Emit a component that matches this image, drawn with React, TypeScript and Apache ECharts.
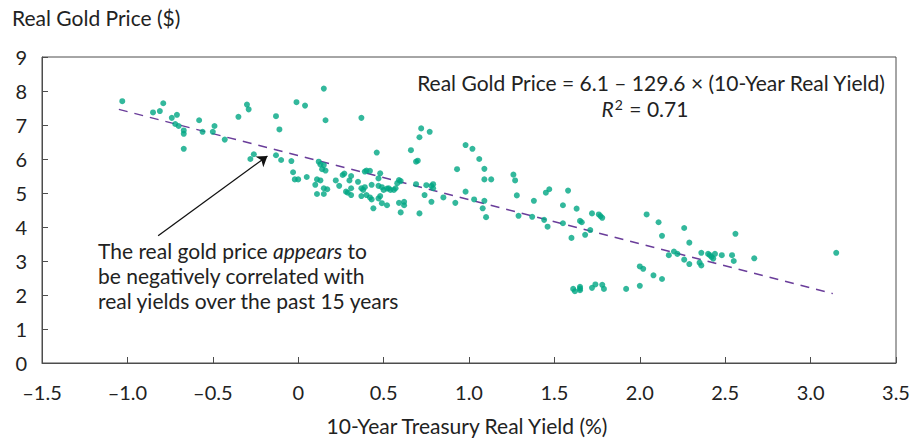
import React, { useEffect, useRef } from "react";
import * as echarts from "echarts";

// 10-Year Treasury real yield (%) and real gold price ($)
const yieldPct: number[] = [
  -1.03, -0.85, -0.81, -0.79, -0.74, -0.71, -0.72, -0.70, -0.67, -0.67, -0.67, -0.58, -0.56, -0.50, -0.49, -0.43,
  -0.35, -0.30, -0.29, -0.28, -0.26, -0.13, -0.11, -0.13, -0.10, -0.04, -0.01, 0.04, -0.03, -0.02, 0.00, 0.05,
  0.10, 0.11, 0.11, 0.13, 0.13, 0.14,
  0.15, 0.16, 0.37, 0.12, 0.15, 0.16, 0.15, 0.17, 0.15, 0.22, 0.24, 0.26, 0.27, 0.30, 0.31, 0.28, 0.29, 0.31,
  0.31, 0.35, 0.39, 0.40, 0.42, 0.48, 0.46, 0.47, 0.37, 0.39, 0.38, 0.43, 0.47, 0.49, 0.50, 0.52, 0.53, 0.54,
  0.56, 0.57, 0.59, 0.60, 0.58, 0.40, 0.42, 0.43, 0.37, 0.48, 0.47, 0.44, 0.49, 0.52, 0.59, 0.62, 0.62, 0.60,
  0.66, 0.69, 0.70, 0.71, 0.72, 0.77, 0.69, 0.75, 0.78, 0.79, 0.79, 0.74, 0.78, 0.71, 0.85, 0.92, 0.93, 0.98,
  1.02, 1.06, 1.09, 1.09, 1.13, 0.98, 1.03, 1.09, 1.08, 1.10,
  1.26, 1.27, 1.28, 1.29, 1.37, 1.38, 1.44, 1.46, 1.45, 1.47, 1.55, 1.58, 1.55, 1.60, 1.63, 1.65, 1.66, 1.68,
  1.71, 1.72, 1.76, 1.77, 1.78, 2.04,
  2.11, 2.13, 2.26, 2.29, 2.17, 2.20, 2.22, 2.26, 2.29, 2.36, 2.35, 2.36, 2.40, 2.41, 2.42, 2.44, 2.43, 2.48,
  2.54, 2.55, 2.56, 2.67, 3.15, 2.00, 2.02, 2.08, 2.13, 2.00, 1.92, 1.78, 1.79, 1.74, 1.72, 1.65, 1.65, 1.65,
  1.61, 1.62,
];
const goldPrice: number[] = [
  7.70, 7.37, 7.41, 7.64, 7.21, 7.30, 7.03, 6.97, 6.84, 6.74, 6.30, 7.14, 6.80, 6.80, 6.97, 6.57,
  7.24, 7.60, 7.46, 6.00, 6.14, 7.26, 6.87, 6.11, 5.97, 5.94, 7.67, 7.57, 5.61, 5.40, 5.40, 5.47,
  5.24, 4.97, 5.40, 5.37, 5.84, 5.70,
  8.07, 7.14, 7.21, 5.92, 5.82, 5.66, 5.14, 5.11, 4.97, 5.37, 5.21, 5.53, 5.57, 5.37, 5.50, 5.04, 5.01, 4.94,
  5.14, 5.33, 5.63, 5.66, 5.65, 5.58, 6.19, 5.43, 5.14, 5.17, 5.09, 5.24, 5.21, 5.17, 5.09, 5.13, 5.14, 5.09,
  5.09, 5.14, 5.38, 5.35, 5.29, 4.94, 4.87, 4.81, 4.91, 4.91, 4.84, 4.55, 4.70, 4.64, 4.71, 4.64, 4.74, 4.43,
  6.26, 5.92, 5.95, 6.64, 6.90, 6.80, 5.26, 5.23, 5.21, 5.26, 5.14, 4.94, 4.74, 4.40, 4.87, 4.71, 5.70, 6.41,
  6.30, 6.00, 5.71, 5.40, 5.40, 5.04, 4.81, 4.77, 4.55, 4.29,
  5.54, 5.37, 4.93, 4.33, 4.30, 4.77, 4.21, 4.01, 5.01, 5.11, 4.64, 5.07, 4.11, 3.68, 4.54, 4.18, 4.14, 3.77,
  3.91, 4.40, 4.37, 4.32, 4.27, 4.37,
  4.14, 3.74, 3.97, 3.54, 3.17, 3.28, 3.21, 3.04, 2.91, 3.24, 2.95, 2.87, 3.21, 3.17, 3.12, 3.21, 3.07, 3.17,
  3.17, 3.00, 3.80, 3.08, 3.24, 2.84, 2.77, 2.58, 2.47, 2.27, 2.18, 2.30, 2.18, 2.31, 2.21, 2.24, 2.19, 2.14,
  2.18, 2.11,
];

// Fitted trend line end points (x = yield %, y = price)
const trendX: number[] = [-1.05, 3.13];
const trendY: number[] = [7.46, 2.04];

// Arrow of the annotation (tail, head) in data units
const arrowX: number[] = [-0.82, -0.18];
const arrowY: number[] = [3.74, 6.09];

const xTicks = { min: -1.5, max: 3.5, interval: 0.5 };
const yTicks = { min: 0, max: 9, interval: 1 };

const FONT = "Lato, 'Open Sans', sans-serif";
const TXT = "#222222";
const AXIS = "#4d4d4d";

export default function App() {
  const ref = useRef<HTMLDivElement>(null);
  useEffect(() => {
    if (!ref.current) return;
    const chart = echarts.init(ref.current, null, { renderer: "svg" });
    const points = yieldPct.map((x, i) => [x, goldPrice[i]]);
    const trend = trendX.map((x, i) => [x, trendY[i]]);
    const fmtX = (v: number) => (v === 0 ? "0" : v < 0 ? "\u2013" + Math.abs(v).toFixed(1) : v.toFixed(1));
    chart.setOption({
      animation: false,
      textStyle: { fontFamily: FONT },
      grid: {
        left: 42,
        right: 22,
        top: 57,
        bottom: 75,
        show: true,
        borderColor: AXIS,
        borderWidth: 1,
        containLabel: false,
      },
      xAxis: {
        type: "value",
        min: xTicks.min,
        max: xTicks.max,
        interval: xTicks.interval,
        axisLine: { show: true, onZero: false, lineStyle: { color: AXIS, width: 1 } },
        axisTick: { show: true, inside: true, length: 6, lineStyle: { color: AXIS } },
        splitLine: { show: false },
        axisLabel: { formatter: fmtX, color: TXT, fontSize: 20, fontFamily: FONT, margin: 19 },
      },
      yAxis: {
        type: "value",
        min: yTicks.min,
        max: yTicks.max,
        interval: yTicks.interval,
        axisLine: { show: true, onZero: false, lineStyle: { color: AXIS, width: 1 } },
        axisTick: { show: true, inside: true, length: 6, lineStyle: { color: AXIS } },
        splitLine: { show: false },
        axisLabel: { color: TXT, fontSize: 20, fontFamily: FONT, margin: 15 },
      },
      series: [
        {
          type: "scatter",
          data: points,
          symbolSize: 6,
          itemStyle: { color: "#00a683" },
          z: 3,
        },
        {
          type: "line",
          data: trend,
          symbol: "none",
          lineStyle: { color: "#6a3d9a", width: 1.5, type: [9, 7] },
          z: 2,
          markLine: {
            silent: true,
            symbol: ["none", "arrow"],
            symbolSize: 10,
            label: { show: false },
            lineStyle: { color: "#111111", width: 1.3, type: "solid" },
            data: [
              [
                { coord: [arrowX[0], arrowY[0]] },
                { coord: [arrowX[1], arrowY[1]] },
              ],
            ],
          },
        },
      ],
      graphic: [
        {
          type: "text",
          left: 12,
          top: 7,
          style: { text: "Real Gold Price ($)", fontSize: 21, fontFamily: FONT, fill: TXT },
        },
        {
          type: "text",
          x: 467,
          y: 425,
          style: {
            text: "10-Year Treasury Real Yield (%)",
            fontSize: 21,
            fontFamily: FONT,
            fill: TXT,
            align: "center",
            verticalAlign: "middle",
          },
        },
        {
          type: "text",
          x: 651,
          y: 82,
          style: {
            text: "Real Gold Price = 6.1 \u2013 129.6 \u00d7 (10-Year Real Yield)",
            fontSize: 21,
            fontFamily: FONT,
            fill: TXT,
            align: "center",
            verticalAlign: "middle",
          },
        },
        {
          type: "text",
          x: 645,
          y: 108,
          style: {
            text: "{i|R}{s|2}{n| = 0.71}",
            fontFamily: FONT,
            fill: TXT,
            align: "center",
            verticalAlign: "middle",
            rich: {
              i: { fontSize: 21, fontStyle: "italic", fontFamily: FONT, fill: TXT, lineHeight: 21 },
              s: { fontSize: 14, fontFamily: FONT, fill: TXT, verticalAlign: "top", lineHeight: 21, padding: [0, 1, 7, 1] },
              n: { fontSize: 21, fontFamily: FONT, fill: TXT, lineHeight: 21 },
            },
          },
        },
        {
          type: "text",
          left: 98,
          top: 240,
          style: {
            text: "{n|The real gold price }{i|appears}{n| to}\n{n|be negatively correlated with}\n{n|real yields over the past 15 years}",
            fontFamily: FONT,
            fill: TXT,
            rich: {
              n: { fontSize: 21, fontFamily: FONT, fill: TXT, lineHeight: 25 },
              i: { fontSize: 21, fontFamily: FONT, fontStyle: "italic", fill: TXT, lineHeight: 25 },
            },
          },
        },
      ],
    });
    return () => chart.dispose();
  }, []);
  return (
    <div
      ref={ref}
      style={{ position: "fixed", left: 0, top: 0, width: 918, height: 438, background: "#ffffff" }}
    />
  );
}
